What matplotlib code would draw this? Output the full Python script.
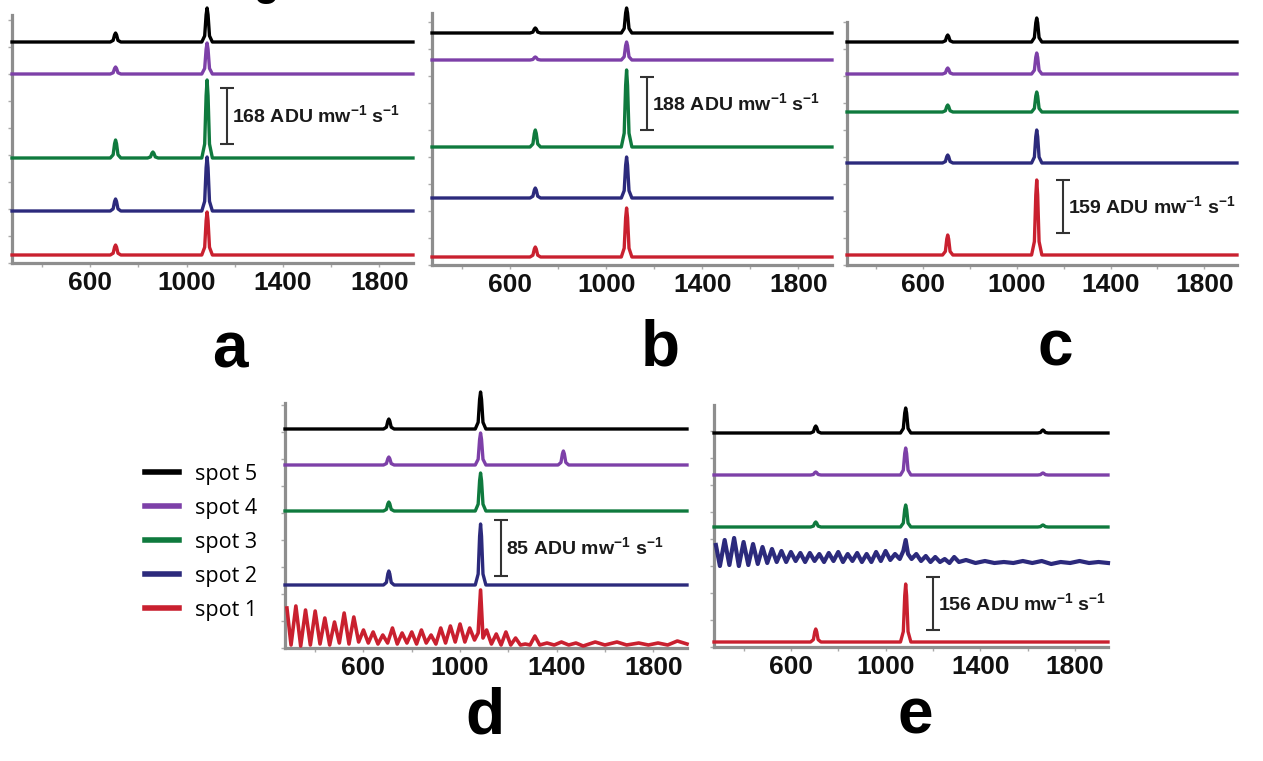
#!/usr/bin/env python3
"""Raman spectra of five spots for five samples (a-e), stacked with offsets."""

import matplotlib

matplotlib.use("Agg")
import matplotlib.pyplot as plt
from matplotlib import font_manager
from matplotlib.lines import Line2D
from matplotlib.ticker import FixedLocator, MultipleLocator

W, H = 1263, 761
XMIN, XMAX = 275, 1940

_names = {f.name for f in font_manager.fontManager.ttflist}
NARROW = "Liberation Sans Narrow" if "Liberation Sans Narrow" in _names else "Liberation Sans"
HAS_NARROW = NARROW == "Liberation Sans Narrow"

plt.rcParams["font.family"] = ["Liberation Sans", "DejaVu Sans"]

SPOTS = ["spot 1", "spot 2", "spot 3", "spot 4", "spot 5"]
COLORS = ["#c9202f", "#2c2a7c", "#0f7a3e", "#7d40a8", "#000000"]

# peak positions (cm-1)
PEAK_A = 705
PEAK_B = 1085

# panel a: offsets and peak heights (spot 1..5)
A_BASE = [8, 52, 105, 189, 221]
A_P700 = [10, 12, 18, 7, 9]
A_P1085 = [43, 54, 78, 31, 34]
A_EXTRA = [(2, 860, 6)]
A_SCALE = ("168", 1168, 119, 175)

# panel b
B_BASE = [8, 67, 118, 205, 232]
B_P700 = [10, 10, 17, 3, 5]
B_P1085 = [49, 41, 77, 18, 25]
B_EXTRA = []
B_SCALE = ("188", 1170, 135, 188)

# panel c
C_BASE = [10, 102, 153, 191, 223]
C_P700 = [20, 8, 7, 6, 7]
C_P1085 = [75, 33, 20, 21, 24]
C_EXTRA = []
C_SCALE = ("159", 1197, 32, 85)

# panel d
D_BASE = [0, 63, 137, 183, 219]
D_P700 = [0, 14, 9, 8, 10]
D_P1085 = [58, 61, 38, 32, 37]
D_EXTRA = [(3, 1428, 14)]
D_SCALE = ("85", 1170, 72, 128)
# spot 1 in d: oscillating background
D1_X = [283, 300, 320, 340, 360, 380, 400, 420, 440, 460, 480, 500, 520, 540,
        560, 580, 600, 620, 640, 660, 680, 700, 720, 740, 760, 780, 800, 820,
        840, 860, 880, 900, 920, 940, 960, 980, 1000, 1020, 1040, 1060, 1075,
        1085, 1095, 1110, 1130, 1150, 1170, 1190, 1210, 1230, 1250, 1270, 1290,
        1310, 1330, 1360, 1390, 1420, 1450, 1480, 1510, 1560, 1600, 1650, 1690,
        1740, 1780, 1820, 1860, 1900, 1940]
D1_Y = [40, 3, 42, 2, 38, 3, 37, 4, 30, 3, 26, 5, 35, 4,
        31, 6, 18, 5, 16, 4, 13, 5, 20, 4, 15, 5, 16, 4,
        18, 5, 13, 4, 20, 5, 22, 6, 24, 6, 20, 8, 15,
        58, 10, 18, 4, 14, 3, 16, 3, 10, 3, 4, 3,
        12, 3, 5, 3, 6, 3, 5, 2, 6, 3, 6, 3,
        5, 3, 5, 3, 7, 4]

# panel e
E_BASE = [5, 84, 120, 172, 214]
E_P700 = [13, 0, 5, 3, 7]
E_P1085 = [58, 22, 22, 27, 25]
E_EXTRA = [(4, 1665, 3), (3, 1665, 2), (2, 1665, 2)]
E_SCALE = ("156", 1200, 17, 70)
# spot 2 in e: oscillating background
E2_X = [283, 300, 320, 340, 360, 380, 400, 420, 440, 460, 480, 500, 520, 540,
        560, 580, 600, 620, 640, 660, 680, 700, 720, 740, 760, 780, 800, 820,
        840, 860, 880, 900, 920, 940, 960, 980, 1000, 1020, 1040, 1060, 1075,
        1085, 1095, 1110, 1130, 1150, 1170, 1190, 1210, 1230, 1250, 1270, 1290,
        1310, 1340, 1380, 1420, 1460, 1500, 1540, 1580, 1620, 1660, 1700, 1740,
        1780, 1820, 1860, 1900, 1940]
E2_Y = [18, -3, 23, -2, 25, -3, 21, -2, 19, -1, 16, 0, 14, 1,
        12, 1, 11, 2, 10, 1, 10, 2, 9, 1, 10, 2, 11, 1,
        9, 2, 10, 1, 9, 1, 11, 2, 12, 3, 9, 4, 12,
        23, 9, 4, 9, 2, 7, 1, 6, 1, 4, 0, 6,
        1, 3, 0, 2, 0, 1, 0, 2, 0, 2, -1, 1,
        0, 2, 0, 1, 0]

# peak profile (offset in cm-1, fraction of height)
PEAK_DX = [-22, -10, -4, 0, 4, 10, 22]
PEAK_FRAC = [0, 0.18, 0.8, 1, 0.8, 0.18, 0]

# panel rectangles in pixels: left, top, right, bottom
PANELS = [
    ("a", (12, 15, 413, 263), A_BASE, A_P700, A_P1085, A_EXTRA, A_SCALE, (230, 368)),
    ("b", (432, 13, 832, 265), B_BASE, B_P700, B_P1085, B_EXTRA, B_SCALE, (660, 366)),
    ("c", (847, 22, 1237, 265), C_BASE, C_P700, C_P1085, C_EXTRA, C_SCALE, (1055, 366)),
    ("d", (285, 403, 687, 648), D_BASE, D_P700, D_P1085, D_EXTRA, D_SCALE, (485, 733)),
    ("e", (714, 405, 1108, 647), E_BASE, E_P700, E_P1085, E_EXTRA, E_SCALE, (915, 733)),
]
SPINE = "#8e8e8e"


def build_trace(peaks):
    xs, ys = [XMIN], [0.0]
    for c, h in sorted(peaks):
        if not h:
            continue
        for dx, f in zip(PEAK_DX, PEAK_FRAC):
            xs.append(c + dx)
            ys.append(h * f)
    xs.append(XMAX)
    ys.append(0.0)
    return xs, ys


def draw_panel(fig, letter, rect, base, p700, p1085, extra, scale, lpos):
    left, top, right, bottom = rect
    ax = fig.add_axes([left / W, 1 - bottom / H, (right - left) / W, (bottom - top) / H])
    ax.set_xlim(XMIN, XMAX)
    ax.set_ylim(0, bottom - top)

    for i in range(5):
        lw = 2.4
        if letter == "d" and i == 0:
            xs, ys = D1_X, D1_Y
            lw = 2.6
        elif letter == "e" and i == 1:
            xs, ys = E2_X, E2_Y
            lw = 3.0
        else:
            peaks = [(PEAK_A, p700[i]), (PEAK_B, p1085[i])]
            peaks += [(x, h) for (s, x, h) in extra if s == i]
            xs, ys = build_trace(peaks)
        ax.plot(xs, [base[i] + y for y in ys], color=COLORS[i], lw=lw,
                clip_on=False, zorder=3)

    label, sx, y0, y1 = scale
    ax.errorbar(sx, (y0 + y1) / 2, yerr=(y1 - y0) / 2, color="#333333",
                elinewidth=1.5, capsize=5, capthick=1.5, clip_on=False)
    fs = 17 if HAS_NARROW else 14
    ax.text(sx + 22, (y0 + y1) / 2,
            label + r" ADU mw$^{\mathregular{-1}}$ s$^{\mathregular{-1}}$",
            family=NARROW, fontsize=fs, fontweight="bold", color="#1a1a1a",
            va="center", ha="left", clip_on=False)

    for side in ("top", "right"):
        ax.spines[side].set_visible(False)
    for side in ("left", "bottom"):
        ax.spines[side].set_color(SPINE)
        ax.spines[side].set_linewidth(2.3)

    ax.xaxis.set_major_locator(FixedLocator([600, 1000, 1400, 1800]))
    ax.xaxis.set_minor_locator(FixedLocator([400, 800, 1200, 1600]))
    ax.yaxis.set_major_locator(MultipleLocator(27))
    ax.set_yticklabels([])
    ax.tick_params(which="both", direction="out", length=3, width=1, color="#aaaaaa")
    ax.tick_params(axis="x", pad=3)
    for t in ax.get_xticklabels():
        t.set_family(NARROW)
        t.set_fontweight("bold")
        t.set_fontsize(22 if HAS_NARROW else 19)
        t.set_color("#111111")

    fig.text(lpos[0] / W, 1 - lpos[1] / H, letter, ha="center", va="baseline",
             fontsize=46, fontweight="bold")
    return ax


def main():
    fig = plt.figure(figsize=(W / 100, H / 100), dpi=100)

    for letter, rect, base, p700, p1085, extra, scale, lpos in PANELS:
        draw_panel(fig, letter, rect, base, p700, p1085, extra, scale, lpos)

    # cut-off letter at the top edge (only its tail is visible)
    fig.text(266 / W, 1 + 5 / H, "g", ha="center", va="baseline",
             fontsize=30, fontweight="bold")

    handles = [Line2D([], [], color=COLORS[i], lw=4) for i in range(4, -1, -1)]
    labels = [SPOTS[i] for i in range(4, -1, -1)]
    fig.legend(handles, labels, loc="upper left", bbox_to_anchor=(145 / W, 1 - 464 / H),
               frameon=False, borderpad=0, borderaxespad=0, handlelength=1.6,
               handletextpad=0.7, labelspacing=0.6,
               prop={"family": "Open Sans", "size": 15.5})

    fig.savefig("out.png", dpi=100)


if __name__ == "__main__":
    main()
